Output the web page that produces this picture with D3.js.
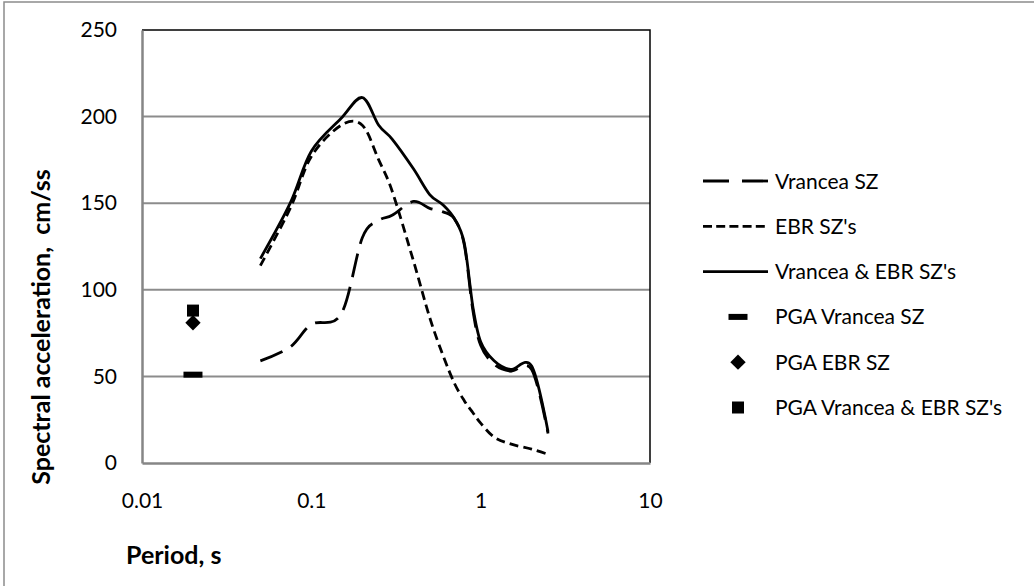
<!DOCTYPE html>
<html>
<head>
<meta charset="utf-8">
<script src="https://cdn.jsdelivr.net/npm/d3@7"></script>
<style>
    body { margin: 0; background: #fff; }
    text { font-family: Lato, "Open Sans", sans-serif; fill: #000; }
</style>
</head>
<body>
<div id="chart"></div>
<script>
// Data
const periods = [0.05, 0.075, 0.1, 0.15, 0.2, 0.25, 0.3, 0.4, 0.5, 0.6, 0.7, 0.8, 0.9, 1, 1.2, 1.5, 2, 2.5];
const vranceaSZ = [59, 67, 80, 86, 130, 140, 143, 151, 147, 145, 141, 126, 88, 68, 57, 53, 54, 17];
const ebrSZ = [114, 147, 177, 195, 195, 175, 157, 117, 84, 62, 46, 36, 29, 23, 15, 11, 8, 5];
const combinedSZ = [118, 150, 180, 199, 211, 195, 187, 170, 155, 149, 141, 127, 90, 70, 59, 54, 56, 18];

const pgaPeriod = 0.02;
const pgaVrancea = 51;
const pgaEbr = 81;
const pgaCombined = 88;

const xTicks = [0.01, 0.1, 1, 10];
const yTicks = [0, 50, 100, 150, 200, 250];

const lineSeries = [
    { name: 'Vrancea SZ', values: vranceaSZ, dash: '24,10', legendDash: '26,13' },
    { name: "EBR SZ's", values: ebrSZ, dash: '9,5', legendDash: '9,4.2' },
    { name: "Vrancea & EBR SZ's", values: combinedSZ, dash: null, legendDash: null },
];
const markerSeries = [
    { name: 'PGA Vrancea SZ', value: pgaVrancea, shape: 'dash' },
    { name: 'PGA EBR SZ', value: pgaEbr, shape: 'diamond' },
    { name: "PGA Vrancea & EBR SZ's", value: pgaCombined, shape: 'square' },
];

// Dimensions
const dimensions = {
    width: 1034,
    height: 586,
    margin: { top: 30, left: 142, right: 384, bottom: 123 },
};
dimensions.ctrWidth = dimensions.width - dimensions.margin.left - dimensions.margin.right;
dimensions.ctrHeight = dimensions.height - dimensions.margin.top - dimensions.margin.bottom;

const svg = d3.select('#chart')
    .append('svg')
    .attr('width', dimensions.width)
    .attr('height', dimensions.height);

// outer chart border (cropped on right and bottom)
svg.append('rect')
    .attr('x', 4).attr('y', 2)
    .attr('width', dimensions.width + 20)
    .attr('height', dimensions.height + 20)
    .attr('fill', 'none')
    .attr('stroke', '#8c8c8c')
    .attr('stroke-width', 1.5);

const ctr = svg.append('g')
    .attr('transform', `translate(${dimensions.margin.left}, ${dimensions.margin.top})`);

// Scales
const xScale = d3.scaleLog().domain([0.01, 10]).range([0, dimensions.ctrWidth]);
const yScale = d3.scaleLinear().domain([0, 250]).range([dimensions.ctrHeight, 0]);

// Gridlines
ctr.append('g')
    .selectAll('line')
    .data(yTicks.filter(d => d > 0 && d < 250))
    .join('line')
    .attr('x1', 0).attr('x2', dimensions.ctrWidth)
    .attr('y1', d => yScale(d)).attr('y2', d => yScale(d))
    .attr('stroke', '#8c8c8c')
    .attr('stroke-width', 2);

// plot border top/right
ctr.append('path')
    .attr('d', `M0,${yScale(250)}H${dimensions.ctrWidth}V${dimensions.ctrHeight}`)
    .attr('fill', 'none')
    .attr('stroke', '#000')
    .attr('stroke-width', 1.5);

// Axes
const xAxis = d3.axisBottom(xScale)
    .tickValues(xTicks)
    .tickFormat(d => String(d))
    .tickSize(0)
    .tickPadding(30);
const yAxis = d3.axisLeft(yScale)
    .tickValues(yTicks)
    .tickSize(0)
    .tickPadding(25);

const xAxisGroup = ctr.append('g')
    .attr('transform', `translate(0, ${dimensions.ctrHeight})`)
    .call(xAxis);
const yAxisGroup = ctr.append('g').call(yAxis);

[xAxisGroup, yAxisGroup].forEach(g => {
    g.select('.domain').attr('stroke', '#868686').attr('stroke-width', 2.5);
    g.selectAll('text')
        .attr('fill', '#000')
        .style('font-family', 'Lato, sans-serif')
        .style('font-size', '21px');
});

// Lines
const lineGen = d3.line()
    .x(d => xScale(d[0]))
    .y(d => yScale(d[1]))
    .curve(d3.curveCardinal.tension(0));

ctr.append('g')
    .selectAll('path')
    .data(lineSeries)
    .join('path')
    .attr('d', s => lineGen(periods.map((p, i) => [p, s.values[i]])))
    .attr('fill', 'none')
    .attr('stroke', '#000')
    .attr('stroke-width', 2.8)
    .attr('stroke-dasharray', s => s.dash);

// Markers
function drawMarker(g, shape, cx, cy) {
    if (shape === 'dash') {
        g.append('rect')
            .attr('x', cx - 9.5).attr('y', cy - 3)
            .attr('width', 19).attr('height', 6)
            .attr('fill', '#000');
    } else if (shape === 'diamond') {
        g.append('path')
            .attr('d', d3.symbol(d3.symbolDiamond2, 150)())
            .attr('transform', `translate(${cx}, ${cy})`)
            .attr('fill', '#000');
    } else {
        g.append('path')
            .attr('d', d3.symbol(d3.symbolSquare, 144)())
            .attr('transform', `translate(${cx}, ${cy})`)
            .attr('fill', '#000');
    }
}

const markerGroup = ctr.append('g');
markerSeries.forEach(m => drawMarker(markerGroup, m.shape, xScale(pgaPeriod), yScale(m.value)));

// Axis titles
svg.append('text')
    .attr('transform', 'translate(50, 327) rotate(-90)')
    .attr('text-anchor', 'middle')
    .style('font-size', '25px')
    .style('font-weight', 'bold')
    .style('white-space', 'pre')
    .text('Spectral acceleration,  cm/ss');

svg.append('text')
    .attr('x', 126)
    .attr('y', 564)
    .style('font-size', '25px')
    .style('font-weight', 'bold')
    .text('Period, s');

// Legend
const legendRows = [...lineSeries, ...markerSeries];
const legend = svg.append('g');
legendRows.forEach((s, i) => {
    const y = 181 + i * 45.3;
    if (s.values) {
        legend.append('line')
            .attr('x1', 703).attr('x2', 768)
            .attr('y1', y).attr('y2', y)
            .attr('stroke', '#000')
            .attr('stroke-width', 2.8)
            .attr('stroke-dasharray', s.legendDash);
    } else {
        drawMarker(legend, s.shape, 738, y);
    }
    legend.append('text')
        .attr('x', 775)
        .attr('y', y)
        .attr('dy', '0.36em')
        .style('font-size', '21px')
        .text(s.name);
});
</script>
</body>
</html>
